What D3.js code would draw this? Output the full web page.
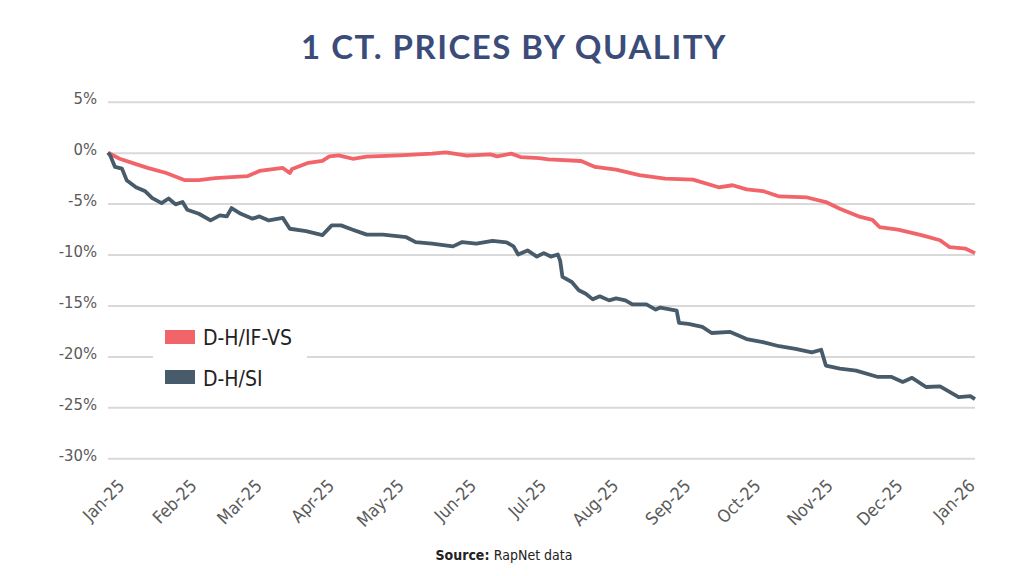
<!DOCTYPE html>
<html>
<head>
<meta charset="utf-8">
<script src="https://cdn.jsdelivr.net/npm/d3@7"></script>
<style>
  body { margin: 0; background: #fff; }
  #chart { width: 1024px; height: 576px; }
  .lbl { font-family: "DejaVu Sans Condensed", "DejaVu Sans", sans-serif; font-stretch: condensed; }
</style>
</head>
<body>
<div id="chart"></div>
<script>
// series names and colours
const seriesNames = ["D-H/IF-VS", "D-H/SI"];
const seriesColors = ["#f1656a", "#475b6b"];

// D-H/IF-VS (% change since Jan 1 2025)
const ifvsDates = ["2025-01-01","2025-01-06","2025-01-12","2025-01-18","2025-01-26","2025-02-03","2025-02-09","2025-02-16",
  "2025-03-02","2025-03-07","2025-03-17","2025-03-20","2025-03-21","2025-03-28","2025-04-03","2025-04-06","2025-04-10",
  "2025-04-16","2025-04-22","2025-05-06","2025-05-20","2025-05-26","2025-06-04","2025-06-14","2025-06-17","2025-06-23",
  "2025-06-27","2025-07-05","2025-07-09","2025-07-23","2025-07-29","2025-08-07","2025-08-17","2025-08-28","2025-09-09",
  "2025-09-20","2025-09-26","2025-10-02","2025-10-09","2025-10-16","2025-10-28","2025-11-05","2025-11-11","2025-11-19",
  "2025-11-25","2025-11-28","2025-12-06","2025-12-16","2025-12-24","2025-12-28","2026-01-04","2026-01-08"];
const ifvsValues = [0, -0.6, -1.05, -1.5, -2.0, -2.7, -2.7, -2.5,
  -2.3, -1.8, -1.5, -2.0, -1.6, -1.0, -0.8, -0.36, -0.27,
  -0.6, -0.4, -0.27, -0.1, 0.03, -0.3, -0.17, -0.36, -0.1,
  -0.43, -0.53, -0.66, -0.82, -1.4, -1.67, -2.2, -2.55, -2.65,
  -3.4, -3.2, -3.6, -3.77, -4.3, -4.4, -4.85, -5.5, -6.25,
  -6.6, -7.3, -7.56, -8.1, -8.6, -9.27, -9.43, -9.86];

// D-H/SI
const siDates = ["2025-01-01","2025-01-02","2025-01-04","2025-01-07","2025-01-09","2025-01-13","2025-01-17","2025-01-20",
  "2025-01-24","2025-01-27","2025-01-30","2025-02-02","2025-02-04","2025-02-09","2025-02-14","2025-02-18","2025-02-21",
  "2025-02-23","2025-02-27","2025-03-04","2025-03-07","2025-03-11","2025-03-17","2025-03-20","2025-03-27","2025-04-03",
  "2025-04-07","2025-04-11","2025-04-16","2025-04-22","2025-04-29","2025-05-09","2025-05-13","2025-05-20","2025-05-29",
  "2025-06-02","2025-06-08","2025-06-15","2025-06-21","2025-06-24","2025-06-26","2025-06-30","2025-07-04","2025-07-07",
  "2025-07-10","2025-07-13","2025-07-14","2025-07-15","2025-07-19","2025-07-22","2025-07-25","2025-07-28","2025-07-31",
  "2025-08-04","2025-08-07","2025-08-11","2025-08-14","2025-08-20","2025-08-24","2025-08-26","2025-09-02","2025-09-03",
  "2025-09-07","2025-09-13","2025-09-17","2025-09-25","2025-10-02","2025-10-09","2025-10-16","2025-10-23","2025-10-30",
  "2025-11-03","2025-11-05","2025-11-11","2025-11-18","2025-11-27","2025-12-03","2025-12-08","2025-12-12","2025-12-18",
  "2025-12-24","2026-01-01","2026-01-06","2026-01-08"];
const siValues = [0, -0.3, -1.4, -1.57, -2.7, -3.4, -3.8, -4.46,
  -4.95, -4.5, -5.08, -4.85, -5.6, -6.0, -6.65, -6.16, -6.26,
  -5.44, -6.0, -6.48, -6.26, -6.65, -6.4, -7.47, -7.7, -8.1,
  -7.14, -7.14, -7.56, -8.05, -8.05, -8.3, -8.78, -8.94, -9.2,
  -8.78, -8.94, -8.65, -8.8, -9.2, -10.0, -9.6, -10.2, -9.86,
  -10.2, -10.0, -10.6, -12.2, -12.7, -13.5, -13.85, -14.4, -14.1,
  -14.5, -14.3, -14.5, -14.9, -14.9, -15.4, -15.2, -15.5, -16.7,
  -16.8, -17.1, -17.7, -17.6, -18.3, -18.6, -19.0, -19.25, -19.6,
  -19.35, -20.9, -21.2, -21.4, -22.0, -22.0, -22.5, -22.1, -23.0,
  -22.95, -24.0, -23.9, -24.2];

// axis ticks
const yTicks = [5, 0, -5, -10, -15, -20, -25, -30];
const xTickStart = "2025-01-01";
const xTickEnd = "2026-01-01";

const width = 1024, height = 576;
const parse = d3.timeParse("%Y-%m-%d");

const svg = d3.select("#chart").append("svg")
  .attr("width", width)
  .attr("height", height);

const x = d3.scaleTime()
  .domain([parse("2025-01-01"), parse("2026-01-08")])
  .range([108, 975]);

const y = d3.scaleLinear()
  .domain([-30, 5])
  .range([458.3, 101.7]);

// title
svg.append("text")
  .attr("x", 514)
  .attr("y", 59)
  .attr("text-anchor", "middle")
  .style("font-family", "Lato, sans-serif")
  .style("font-weight", "700")
  .style("font-size", "33px")
  .style("letter-spacing", "1.5px")
  .style("fill", "#3b4c7a")
  .text("1 CT. PRICES BY QUALITY");

// y gridlines + labels
const yAxis = svg.append("g")
  .attr("transform", "translate(108,0)")
  .call(d3.axisLeft(y).tickValues(yTicks).tickSize(-(975 - 108)).tickPadding(11).tickFormat(d => d + "%"));
yAxis.select(".domain").remove();
yAxis.selectAll("line").attr("stroke", "#d9d9d9").attr("stroke-width", 2);
yAxis.selectAll("text")
  .attr("class", "lbl")
  .attr("dy", "0.12em")
  .style("font-size", "16.5px")
  .style("fill", "#5a5a5a");

// x labels, rotated
const months = d3.timeMonth.range(parse(xTickStart), d3.timeDay.offset(parse(xTickEnd), 1));
const xAxis = svg.append("g")
  .attr("transform", "translate(0,487)")
  .call(d3.axisBottom(x).tickValues(months).tickSize(0).tickFormat(d3.timeFormat("%b-%y")));
xAxis.select(".domain").remove();
xAxis.selectAll("text")
  .attr("class", "lbl")
  .attr("x", 0).attr("y", 0).attr("dy", null)
  .attr("text-anchor", "end")
  .attr("transform", "translate(17,0) rotate(-45)")
  .style("font-size", "17.5px")
  .style("fill", "#5a5a5a");

// lines
const line = d3.line()
  .x(d => x(d.date))
  .y(d => y(d.value));

const series = [
  ifvsDates.map((d, i) => ({ date: parse(d), value: ifvsValues[i] })),
  siDates.map((d, i) => ({ date: parse(d), value: siValues[i] }))
];

series.forEach((s, i) => {
  svg.append("path")
    .datum(s)
    .attr("fill", "none")
    .attr("stroke", seriesColors[i])
    .attr("stroke-width", 3.8)
    .attr("stroke-linejoin", "round")
    .attr("d", line);
});

// legend
const legend = svg.append("g");
legend.append("rect")
  .attr("x", 153).attr("y", 320).attr("width", 154).attr("height", 74)
  .attr("fill", "#fff");
seriesNames.forEach((name, i) => {
  legend.append("rect")
    .attr("x", 165).attr("y", 330 + i * 40)
    .attr("width", 30).attr("height", 14)
    .attr("fill", seriesColors[i]);
  legend.append("text")
    .attr("class", "lbl")
    .attr("x", 203).attr("y", 345 + i * 41)
    .style("font-size", "21px")
    .style("fill", "#222")
    .text(name);
});

// source
const src = svg.append("text")
  .attr("class", "lbl")
  .attr("x", 504).attr("y", 560)
  .attr("text-anchor", "middle")
  .style("font-size", "14px")
  .style("fill", "#222");
src.append("tspan").style("font-weight", "bold").text("Source: ");
src.append("tspan").text("RapNet data");
</script>
</body>
</html>
